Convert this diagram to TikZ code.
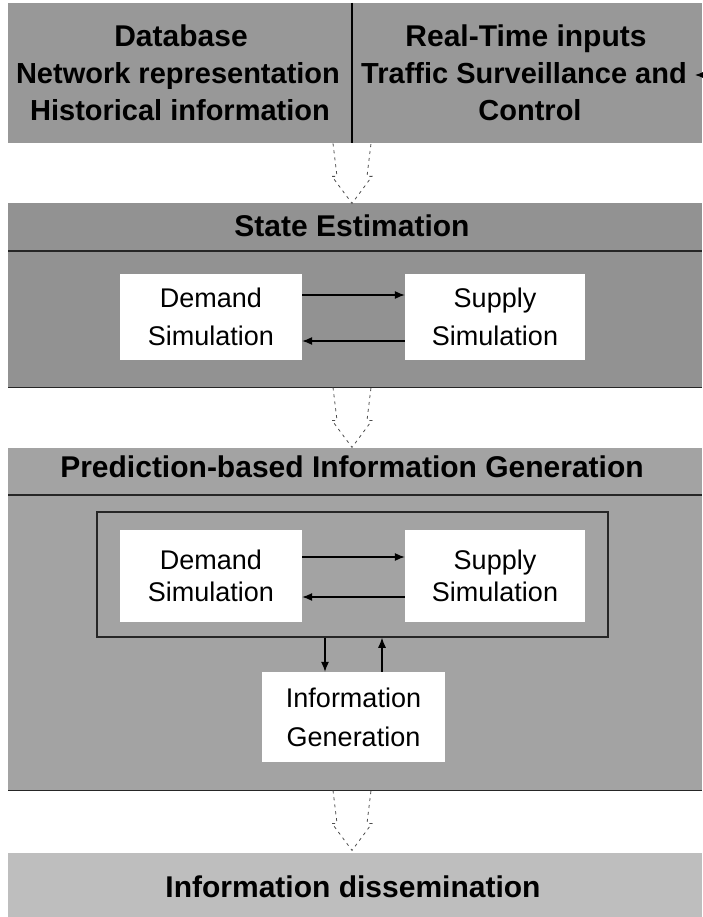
\documentclass[tikz,border=0pt]{standalone}
\usepackage{fontspec}
\setmainfont{Liberation Sans}
\usetikzlibrary{arrows.meta,calc}
\definecolor{bandA}{RGB}{152,152,152}
\definecolor{bandB}{RGB}{146,146,146}
\definecolor{bandC}{RGB}{163,163,163}
\definecolor{bandD}{RGB}{190,190,190}
\begin{document}
\begin{tikzpicture}[x=1pt,y=-1pt,
  band/.style={draw=none, inner sep=0, anchor=north west},
  rule/.style={line width=1.6pt, black!85},
  title/.style={font=\fontsize{30}{36}\selectfont\bfseries, inner sep=0},
  toptext/.style={font=\fontsize{29}{37}\selectfont\bfseries, inner sep=0, anchor=base},
  simbox/.style={fill=white, inner sep=0, align=center},
  flow/.style={line width=1.1pt, -{Latex[length=10pt,width=8pt]}},
  faintdash/.style={dash pattern=on 3pt off 4pt, line width=0.8pt, black!70},
  pics/hollowarrow/.style={code={
    \draw[faintdash] (-19,0) -- (-15,33) -- (-20,33) -- (0,60) -- (20,33) -- (15,33) -- (19,0);}}
]
\useasboundingbox (0,0) rectangle (702,917);

% bands
\node[band, fill=bandA, minimum width=694, minimum height=140] (top)  at (8,3) {};
\node[band, fill=bandB, minimum width=694, minimum height=184] (est)  at (8,203) {};
\node[band, fill=bandC, minimum width=694, minimum height=342] (pred) at (8,448) {};
\node[band, fill=bandD, minimum width=694, minimum height=64]  (diss) at (8,853) {};

% top band: two columns
\draw[line width=1.4pt] (top.north -| 352,0) -- (top.south -| 352,0);
\node[toptext, font=\fontsize{30}{37}\selectfont\bfseries] (db1) at (181,47) {Database};
\node[toptext] (db2) at (178,84) {Network representation};
\node[toptext] (db3) at (180,121) {Historical information};
\node[toptext, font=\fontsize{30}{37}\selectfont\bfseries] (rt1) at (526,47) {Real-Time inputs};
\node[toptext] (rt2) at (524,84) {Traffic Surveillance and};
\node[toptext] (rt3) at (530,121) {Control};
\coordinate (feed) at (712,75);
\coordinate (feedend) at (695,75);
\draw[flow] (feed) -- (feedend);

% state estimation
\node[title] (estt) at (352,226) {State Estimation};
\draw[rule] (est.west |- 0,251) -- (est.east |- 0,251);
\draw[rule] (est.south west) -- (est.south east);
\node[simbox, minimum width=182, minimum height=86, font=\fontsize{27}{38}\selectfont] (d1) at (211,317) {Demand\\Simulation};
\node[simbox, minimum width=180, minimum height=86, font=\fontsize{27}{38}\selectfont] (s1) at (495,317) {Supply\\Simulation};
\draw[flow] ([yshift=22pt]d1.east) -- ([yshift=22pt]s1.west);
\draw[flow] ([yshift=-24pt]s1.west) -- ([yshift=-24pt]d1.east);

% prediction-based information generation
\node[title] (predt) at (352,467) {Prediction-based Information Generation};
\draw[rule] (pred.west |- 0,495) -- (pred.east |- 0,495);
\draw[rule] (pred.south west) -- (pred.south east);
\node[draw=black!85, line width=1.5pt, inner sep=0, minimum width=511, minimum height=125] (frame) at (352.5,574.5) {};
\node[simbox, minimum width=182, minimum height=92, font=\fontsize{27}{32}\selectfont] (d2) at (211,576) {Demand\\Simulation};
\node[simbox, minimum width=180, minimum height=92, font=\fontsize{27}{32}\selectfont] (s2) at (495,576) {Supply\\Simulation};
\draw[flow] ([yshift=19pt]d2.east) -- ([yshift=19pt]s2.west);
\draw[flow] ([yshift=-21pt]s2.west) -- ([yshift=-21pt]d2.east);
\node[simbox, minimum width=183, minimum height=90, font=\fontsize{27}{39}\selectfont] (info) at (353.5,717) {Information\\Generation};
\draw[flow] (frame.south -| 325,0) -- (info.north -| 325,0);
\draw[flow] (info.north -| 382,0) -- (frame.south -| 382,0);

% information dissemination
\node[title] (disst) at (353,887) {Information dissemination};

% hollow arrows between stages
\pic at (top.south -| 352,0) {hollowarrow};
\pic at (est.south -| 352,0) {hollowarrow};
\pic at (pred.south -| 352,0) {hollowarrow};
\end{tikzpicture}
\end{document}
